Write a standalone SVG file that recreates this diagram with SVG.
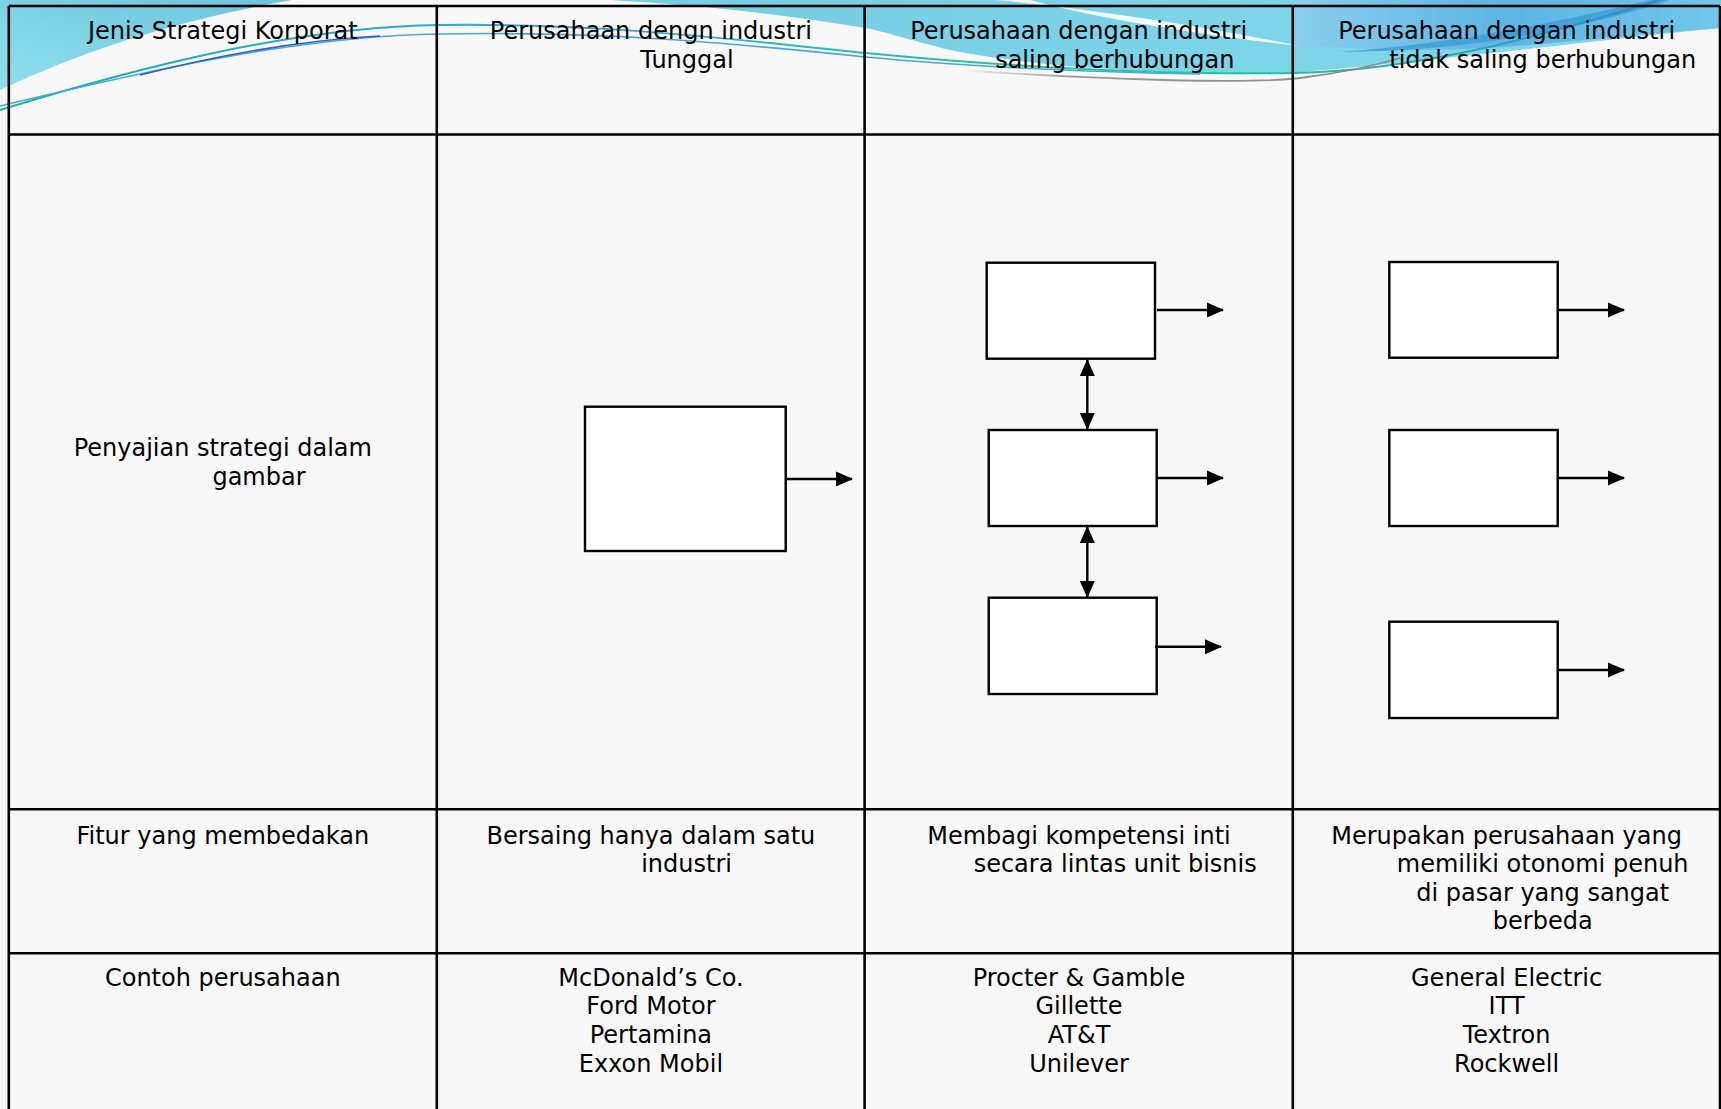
<svg xmlns="http://www.w3.org/2000/svg" width="1721" height="1109" viewBox="0 0 1721 1109">
<defs>
<linearGradient id="gTL" x1="0" y1="1" x2="1" y2="0">
<stop offset="0" stop-color="#8fe0ec"/><stop offset="1" stop-color="#6cc4dd"/>
</linearGradient>
<linearGradient id="gB" x1="0" y1="0" x2="1" y2="0">
<stop offset="0" stop-color="#78cce2"/><stop offset="0.6" stop-color="#7dd5e8"/><stop offset="1" stop-color="#86d8ea"/>
</linearGradient>
<linearGradient id="gC4" x1="0" y1="0" x2="1" y2="0">
<stop offset="0" stop-color="#8acfee"/><stop offset="0.5" stop-color="#5db5e3"/><stop offset="1" stop-color="#72c6ea"/>
</linearGradient>
<linearGradient id="gLine" x1="0" y1="0" x2="1" y2="0">
<stop offset="0" stop-color="#16b3a3"/><stop offset="0.35" stop-color="#3aa8d8"/><stop offset="0.7" stop-color="#1fcf8f"/><stop offset="1" stop-color="#2a8fd0"/>
</linearGradient>
<linearGradient id="gGray" x1="960" y1="0" x2="1400" y2="0" gradientUnits="userSpaceOnUse">
<stop offset="0" stop-color="#9a9a9a" stop-opacity="0"/><stop offset="0.25" stop-color="#9a9a9a"/><stop offset="1" stop-color="#8a8a8a"/>
</linearGradient>
<marker id="ah" viewBox="0 0 17 16" refX="16" refY="8" markerWidth="17" markerHeight="16" markerUnits="userSpaceOnUse" orient="auto-start-reverse">
<path d="M0,0.5 L17,8 L0,15.5 Z" fill="#000"/>
</marker>
<style>
.t{font-family:"DejaVu Sans","Liberation Sans",sans-serif;font-size:24px;fill:#000;}
.m{text-anchor:middle;}
.grid{stroke:#000;stroke-width:2.6;fill:none;}
.box{fill:#fff;stroke:#000;stroke-width:2.4;}
.con{stroke:#000;stroke-width:2.4;fill:none;}
</style>
</defs>

<rect x="0" y="0" width="1721" height="1109" fill="#f8f8f8"/>

<g id="decor">
<path d="M0,0 H292 Q130,28 0,90 Z" fill="url(#gTL)"/>
<path d="M610,0 L1721,0 L1721,28 C1600,40 1460,58 1300,72 C1180,76 1040,68 950,50 C910,40 885,32 866,28 C780,14 700,5 610,0 Z" fill="url(#gB)"/>
<path d="M1293,0 L1721,0 L1721,28 C1610,36 1500,52 1400,50 C1360,48 1320,47 1293,46 Z" fill="url(#gC4)"/>
<path d="M995,0 C1100,10 1200,26 1300,46 C1200,35 1095,18 1030,0 Z" fill="#ffffff" opacity="0.9"/>
<path d="M1340,52 C1450,44 1560,22 1650,0 L1670,0 C1580,30 1460,52 1340,52 Z" fill="#3f9bd6" opacity="0.8"/>
<path d="M0,110 C130,70 290,27 440,25 C600,23 720,38 866,53 C1000,66 1150,75 1293,73 C1430,70 1560,30 1660,0" fill="none" stroke="url(#gLine)" stroke-width="2"/>
<path d="M0,106 C150,70 300,36 440,34 C600,31 720,42 866,57 C980,68 1100,72 1200,74" fill="none" stroke="#4aa6dc" stroke-width="1.6"/>
<path d="M140,75 C220,55 300,40 380,36" fill="none" stroke="#2a60c8" stroke-width="1.6"/>
<path d="M960,70 C1100,80 1250,84 1300,78 C1350,72 1380,64 1400,58" fill="none" stroke="url(#gGray)" stroke-width="1.8"/>
</g>

<g id="table" class="grid">
<line x1="8.8" y1="6" x2="1720" y2="6"/>
<line x1="8.8" y1="134.5" x2="1720" y2="134.5"/>
<line x1="8.8" y1="809.3" x2="1720" y2="809.3"/>
<line x1="8.8" y1="953.3" x2="1720" y2="953.3"/>
<line x1="8.8" y1="6" x2="8.8" y2="1109"/>
<line x1="436.8" y1="6" x2="436.8" y2="1109"/>
<line x1="864.6" y1="6" x2="864.6" y2="1109"/>
<line x1="1292.8" y1="6" x2="1292.8" y2="1109"/>
<line x1="1720" y1="6" x2="1720" y2="1109"/>
</g>

<g id="header-texts">
<text class="t m" x="222.8" y="39">Jenis Strategi Korporat</text>
<text class="t m" x="650.9" y="39">Perusahaan dengn industri</text>
<text class="t m" x="687" y="67.5">Tunggal</text>
<text class="t m" x="1078.6" y="39">Perusahaan dengan industri</text>
<text class="t m" x="1114.8" y="67.5">saling berhubungan</text>
<text class="t m" x="1506.6" y="39">Perusahaan dengan industri</text>
<text class="t m" x="1542.7" y="67.5">tidak saling berhubungan</text>
</g>

<g id="row-gambar">
<text class="t m" x="222.8" y="455.5">Penyajian strategi dalam</text>
<text class="t m" x="259" y="484.5">gambar</text>
</g>

<g id="n-tunggal"><rect class="box" x="585" y="406.7" width="200.7" height="144.3"/></g>
<g id="n-rel1"><rect class="box" x="986.7" y="262.7" width="168.3" height="96"/></g>
<g id="n-rel2"><rect class="box" x="988.7" y="430" width="168" height="96"/></g>
<g id="n-rel3"><rect class="box" x="988.7" y="597.7" width="168" height="96.3"/></g>
<g id="n-unrel1"><rect class="box" x="1389.3" y="262" width="168.4" height="95.7"/></g>
<g id="n-unrel2"><rect class="box" x="1389.3" y="430" width="168.4" height="96"/></g>
<g id="n-unrel3"><rect class="box" x="1389.3" y="621.7" width="168.4" height="96.3"/></g>

<g id="connectors" class="con">
<line x1="786" y1="479" x2="852" y2="479" marker-end="url(#ah)"/>
<line x1="1157" y1="310" x2="1223" y2="310" marker-end="url(#ah)"/>
<line x1="1157" y1="478" x2="1223" y2="478" marker-end="url(#ah)"/>
<line x1="1155" y1="646.7" x2="1221" y2="646.7" marker-end="url(#ah)"/>
<line x1="1087.3" y1="360" x2="1087.3" y2="429" marker-start="url(#ah)" marker-end="url(#ah)"/>
<line x1="1087.3" y1="527" x2="1087.3" y2="597" marker-start="url(#ah)" marker-end="url(#ah)"/>
<line x1="1558" y1="310" x2="1624" y2="310" marker-end="url(#ah)"/>
<line x1="1558" y1="478" x2="1624" y2="478" marker-end="url(#ah)"/>
<line x1="1558" y1="670" x2="1624" y2="670" marker-end="url(#ah)"/>
</g>

<g id="row-fitur">
<text class="t m" x="222.8" y="843.5">Fitur yang membedakan</text>
<text class="t m" x="650.9" y="843.5">Bersaing hanya dalam satu</text>
<text class="t m" x="686.6" y="872">industri</text>
<text class="t m" x="1079" y="843.5">Membagi kompetensi inti</text>
<text class="t m" x="1115.2" y="872">secara lintas unit bisnis</text>
<text class="t m" x="1506.6" y="843.5">Merupakan perusahaan yang</text>
<text class="t m" x="1542.7" y="872">memiliki otonomi penuh</text>
<text class="t m" x="1542.7" y="900.5">di pasar yang sangat</text>
<text class="t m" x="1542.7" y="929">berbeda</text>
</g>

<g id="row-contoh">
<text class="t m" x="222.8" y="985.5">Contoh perusahaan</text>
<text class="t m" x="650.9" y="985.5">McDonald’s Co.</text>
<text class="t m" x="650.9" y="1014">Ford Motor</text>
<text class="t m" x="650.9" y="1042.5">Pertamina</text>
<text class="t m" x="650.9" y="1071.5">Exxon Mobil</text>
<text class="t m" x="1079" y="985.5">Procter &amp; Gamble</text>
<text class="t m" x="1079" y="1014">Gillette</text>
<text class="t m" x="1079" y="1042.5">AT&amp;T</text>
<text class="t m" x="1079" y="1071.5">Unilever</text>
<text class="t m" x="1506.6" y="985.5">General Electric</text>
<text class="t m" x="1506.6" y="1014">ITT</text>
<text class="t m" x="1506.6" y="1042.5">Textron</text>
<text class="t m" x="1506.6" y="1071.5">Rockwell</text>
</g>
</svg>
